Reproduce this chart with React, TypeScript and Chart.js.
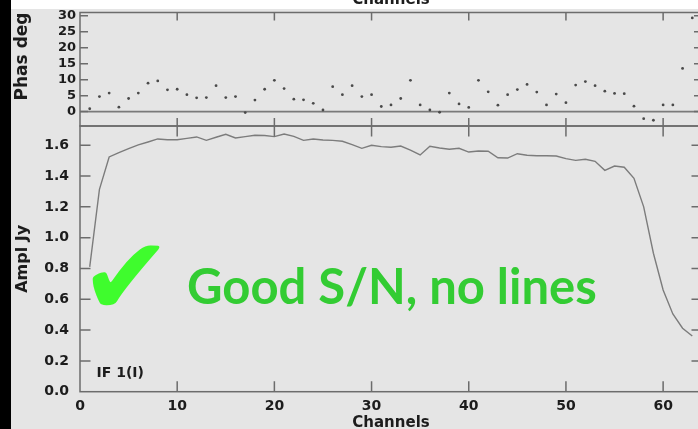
import React, { useEffect, useRef } from "react";
import { Chart, registerables } from "chart.js";

Chart.register(...registerables);

// ---- data ----
const channels = [
  1, 2, 3, 4, 5, 6, 7, 8, 9, 10, 11, 12, 13, 14, 15, 16, 17, 18, 19, 20, 21,
  22, 23, 24, 25, 26, 27, 28, 29, 30, 31, 32, 33, 34, 35, 36, 37, 38, 39, 40,
  41, 42, 43, 44, 45, 46, 47, 48, 49, 50, 51, 52, 53, 54, 55, 56, 57, 58, 59,
  60, 61, 62, 63,
];

const phaseDeg = [
  0.9, 4.7, 5.8, 1.4, 4.1, 5.8, 8.9, 9.6, 6.8, 7.0, 5.3, 4.3, 4.4, 8.1, 4.4,
  4.7, -0.3, 3.6, 7.0, 9.8, 7.2, 3.9, 3.7, 2.6, 0.5, 7.8, 5.3, 8.1, 4.7, 5.3,
  1.6, 2.1, 4.1, 9.8, 2.1, 0.5, -0.2, 5.8, 2.4, 1.3, 9.8, 6.2, 2.0, 5.3, 6.9,
  8.5, 6.1, 2.1, 5.5, 2.8, 8.3, 9.4, 8.1, 6.4, 5.7, 5.6, 1.7, -2.2, -2.7, 2.1,
  2.1, 13.5, 29.3,
];

const amplJy = [
  0.81, 1.314, 1.524, 1.552, 1.578, 1.602, 1.621, 1.641, 1.636, 1.636, 1.645,
  1.654, 1.632, 1.652, 1.671, 1.647, 1.656, 1.665, 1.663, 1.656, 1.673, 1.658,
  1.632, 1.641, 1.634, 1.632, 1.626, 1.604, 1.58, 1.6, 1.591, 1.587, 1.595,
  1.569, 1.537, 1.593, 1.582, 1.574, 1.58, 1.556, 1.563, 1.561, 1.519, 1.517,
  1.545, 1.535, 1.532, 1.532, 1.53, 1.513, 1.502, 1.509, 1.496, 1.437, 1.465,
  1.457, 1.385, 1.2, 0.899, 0.66, 0.505, 0.412, 0.362,
];

const xTitle = "Channels";
const phaseTitle = "Phas deg";
const amplTitle = "Ampl Jy";
const ifLabel = "IF 1(I)";
const checkMark = "\u2714";
const noteText = "Good S/N, no lines";

const FONT = "'DejaVu Sans', 'Liberation Sans', sans-serif";
const INK = "#1c1c1c";
const FRAME = "#6c6c6c";

function framePlugin(tickLen: number, zeroLine: boolean, extra?: (c: any) => void) {
  return {
    id: "frameTicks",
    beforeDatasetsDraw(chart: any) {
      if (!zeroLine) return;
      const { ctx, chartArea } = chart;
      const y0 = chart.scales.y.getPixelForValue(0);
      ctx.save();
      ctx.strokeStyle = "#7a7a7a";
      ctx.lineWidth = 1.6;
      ctx.beginPath();
      ctx.moveTo(chartArea.left, y0);
      ctx.lineTo(chartArea.right, y0);
      ctx.stroke();
      ctx.restore();
    },
    afterDraw(chart: any) {
      const { ctx, chartArea } = chart;
      const { left, right, top, bottom } = chartArea;
      const xs = chart.scales.x;
      const ys = chart.scales.y;
      ctx.save();
      ctx.strokeStyle = FRAME;
      ctx.lineWidth = 1.5;
      ctx.strokeRect(left, top, right - left, bottom - top);
      ctx.beginPath();
      for (const t of xs.ticks) {
        const px = xs.getPixelForValue(t.value);
        if (px <= left + 1 || px >= right - 1) continue;
        ctx.moveTo(px, top);
        ctx.lineTo(px, top + tickLen);
        ctx.moveTo(px, bottom);
        ctx.lineTo(px, bottom - tickLen);
      }
      for (const t of ys.ticks) {
        const py = ys.getPixelForValue(t.value);
        if (py <= top + 1 || py >= bottom - 1) continue;
        ctx.moveTo(left, py);
        ctx.lineTo(left + tickLen, py);
        ctx.moveTo(right, py);
        ctx.lineTo(right - tickLen, py);
      }
      ctx.stroke();
      ctx.restore();
      if (extra) extra(chart);
    },
  };
}

function drawNotes(chart: any) {
  const { ctx } = chart;
  ctx.save();
  ctx.textAlign = "left";
  ctx.textBaseline = "alphabetic";
  ctx.fillStyle = INK;
  ctx.font = `bold 14px ${FONT}`;
  ctx.fillText(ifLabel, 96.5, 377);
  ctx.fillStyle = "#3ffc2d";
  ctx.font = `110px 'DejaVu Sans', sans-serif`;
  ctx.fillText(checkMark, 80, 315);
  ctx.fillStyle = "#33cc33";
  ctx.font = `bold 49px Lato, 'Open Sans', sans-serif`;
  ctx.fillText(noteText, 187, 304);
  ctx.restore();
}

export default function App() {
  const aRef = useRef<HTMLCanvasElement | null>(null);
  const bRef = useRef<HTMLCanvasElement | null>(null);

  useEffect(() => {
    const phasePts = channels.map((c, i) => ({ x: c, y: phaseDeg[i] }));
    const amplPts = channels.map((c, i) => ({ x: c, y: amplJy[i] }));

    const chartA = new Chart(aRef.current as HTMLCanvasElement, {
      type: "scatter",
      data: {
        datasets: [
          {
            data: phasePts,
            pointRadius: 1.4,
            pointBackgroundColor: "#4a4a4a",
            pointBorderWidth: 0,
            showLine: false,
          } as any,
        ],
      },
      options: {
        responsive: false,
        animation: false,
        events: [],
        layout: { padding: { left: 0, right: 10, top: 0, bottom: 14 } },
        plugins: { legend: { display: false }, tooltip: { enabled: false } },
        scales: {
          x: {
            type: "linear",
            position: "top",
            min: 0,
            max: 64,
            ticks: { display: false, stepSize: 10, includeBounds: false },
            grid: { display: false, drawTicks: false },
            border: { display: false },
            title: {
              display: true,
              text: xTitle,
              color: INK,
              font: { family: FONT, size: 15, weight: "bold" },
              padding: { top: 10.8, bottom: 0 },
            },
            afterFit: (s: any) => {
              s.height = 32.5;
            },
          } as any,
          y: {
            type: "linear",
            min: -4.5,
            max: 31,
            ticks: {
              stepSize: 5,
              includeBounds: false,
              autoSkip: false,
              padding: 4,
              color: INK,
              font: { family: FONT, size: 13, weight: "bold", lineHeight: 1 },
            },
            grid: { display: false, drawTicks: false },
            border: { display: false },
            title: {
              display: true,
              text: phaseTitle,
              align: "end",
              color: INK,
              font: { family: FONT, size: 17, weight: "bold" },
              padding: { top: 12.3, bottom: 0 },
            },
            afterFit: (s: any) => {
              s.width = 80;
            },
          } as any,
        },
      },
      plugins: [framePlugin(8, true)],
    });

    const chartB = new Chart(bRef.current as HTMLCanvasElement, {
      type: "line",
      data: {
        datasets: [
          {
            data: amplPts,
            borderColor: "#7c7c7c",
            borderWidth: 1.4,
            pointRadius: 0,
            tension: 0,
            fill: false,
          } as any,
        ],
      },
      options: {
        responsive: false,
        animation: false,
        events: [],
        layout: { padding: { left: 0, right: 10, top: 126, bottom: 8.3 } },
        plugins: { legend: { display: false }, tooltip: { enabled: false } },
        scales: {
          x: {
            type: "linear",
            position: "bottom",
            min: 0,
            max: 64,
            ticks: {
              stepSize: 10,
              includeBounds: false,
              padding: 6.4,
              color: INK,
              maxRotation: 0,
              font: { family: FONT, size: 14, weight: "bold" },
            },
            grid: { display: false, drawTicks: false },
            border: { display: false },
            title: {
              display: true,
              text: xTitle,
              color: INK,
              font: { family: FONT, size: 15, weight: "bold" },
              padding: { top: 0, bottom: 0 },
            },
            afterFit: (s: any) => {
              s.height = 40;
            },
          } as any,
          y: {
            type: "linear",
            min: 0,
            max: 1.725,
            ticks: {
              stepSize: 0.2,
              includeBounds: false,
              autoSkip: false,
              padding: 11,
              color: INK,
              font: { family: FONT, size: 14, weight: "bold" },
              callback: (v: any) => Number(v).toFixed(1),
            },
            grid: { display: false, drawTicks: false },
            border: { display: false },
            title: {
              display: true,
              text: amplTitle,
              color: INK,
              font: { family: FONT, size: 16, weight: "bold" },
              padding: { top: 13, bottom: 0 },
            },
            afterFit: (s: any) => {
              s.width = 80;
            },
          } as any,
        },
      },
      plugins: [framePlugin(10.5, false, drawNotes)],
    });

    return () => {
      chartA.destroy();
      chartB.destroy();
    };
  }, []);

  return (
    <div
      style={{
        position: "fixed",
        left: 0,
        top: 0,
        width: 698,
        height: 429,
        overflow: "hidden",
        background: "#e5e5e5",
      }}
    >
      <div style={{ position: "absolute", left: 0, top: 0, width: 11, height: 429, background: "#000" }} />
      <div style={{ position: "absolute", left: 11, top: 0, width: 687, height: 9, background: "#fff" }} />
      <canvas
        ref={aRef}
        width={712}
        height={160}
        style={{ position: "absolute", left: 0, top: -20, width: 712, height: 160 }}
      />
      <canvas
        ref={bRef}
        width={712}
        height={440}
        style={{ position: "absolute", left: 0, top: 0, width: 712, height: 440 }}
      />
    </div>
  );
}
